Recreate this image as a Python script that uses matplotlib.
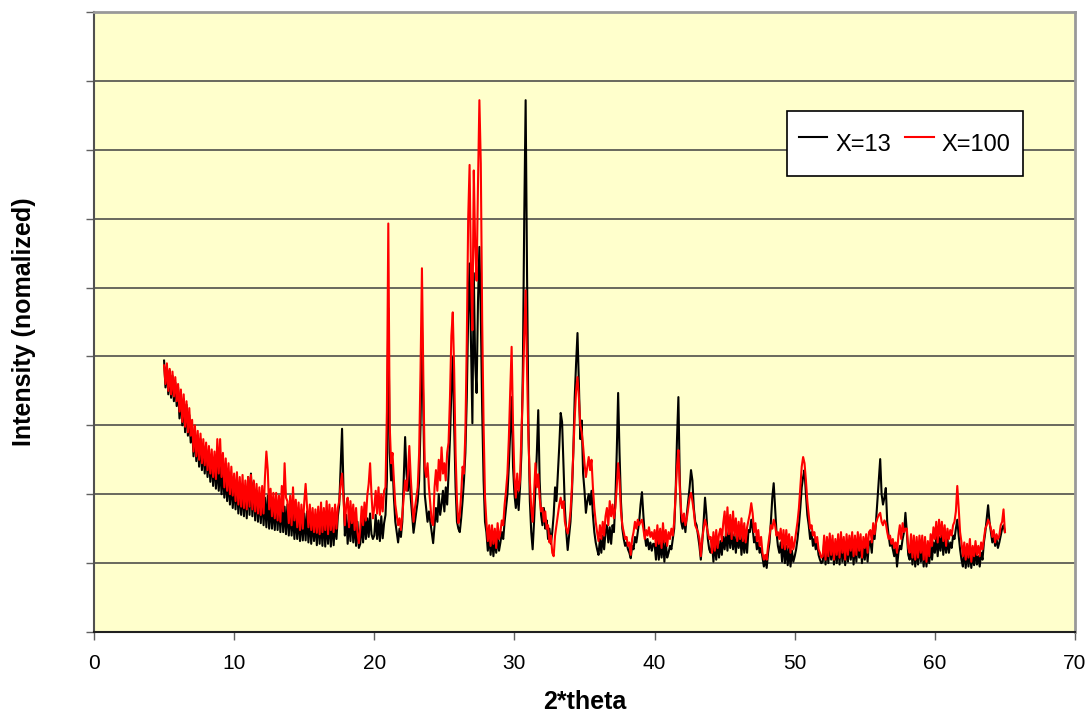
import numpy as np
import matplotlib.pyplot as plt

plt.rcParams['font.family'] = ['Liberation Sans', 'DejaVu Sans']

# 2*theta grid: 5.0 .. 65.0 in 0.1 steps, one row per degree
two_theta = np.round(np.arange(5.0, 65.05, 0.1), 1)

x13 = [
    3.94, 3.55, 3.85, 3.45, 3.80, 3.40, 3.72, 3.35, 3.62, 3.28,  # 5
    3.55, 3.10, 3.45, 3.00, 3.38, 2.90, 3.30, 2.85, 3.15, 2.75,  # 6
    3.00, 2.55, 2.92, 2.48, 2.85, 2.40, 2.80, 2.35, 2.70, 2.30,  # 7
    2.65, 2.25, 2.60, 2.18, 2.55, 2.12, 2.50, 2.08, 2.45, 2.05,  # 8
    2.40, 2.00, 2.38, 1.95, 2.30, 1.90, 2.25, 1.85, 2.20, 1.80,  # 9
    2.15, 1.78, 2.20, 1.72, 2.12, 1.70, 2.08, 1.68, 2.10, 1.65,  # 10
    2.25, 1.70, 2.30, 1.68, 2.18, 1.62, 2.05, 1.60, 2.00, 1.58,  # 11
    2.00, 1.55, 1.95, 1.52, 1.98, 1.50, 1.88, 1.50, 1.85, 1.48,  # 12
    1.92, 1.48, 1.88, 1.45, 1.90, 1.45, 1.82, 1.42, 1.85, 1.40,  # 13
    1.80, 1.40, 1.75, 1.35, 1.72, 1.35, 1.70, 1.32, 1.68, 1.33,  # 14
    1.72, 1.33, 1.75, 1.30, 1.68, 1.28, 1.65, 1.32, 1.62, 1.26,  # 15
    1.68, 1.28, 1.65, 1.25, 1.70, 1.24, 1.62, 1.28, 1.65, 1.24,  # 16
    1.65, 1.26, 1.60, 1.35, 1.68, 1.85, 2.40, 2.95, 2.10, 1.40,  # 17
    1.70, 1.28, 1.65, 1.32, 1.75, 1.30, 1.62, 1.25, 1.60, 1.22,  # 18
    1.28, 1.62, 1.30, 1.68, 1.35, 1.65, 1.38, 1.72, 1.42, 1.35,  # 19
    1.40, 1.70, 1.35, 1.62, 1.32, 1.68, 1.36, 1.58, 1.70, 2.20,  # 20
    4.70, 2.60, 2.20, 2.45, 1.95, 1.60, 1.45, 1.30, 1.50, 1.38,  # 21
    1.60, 2.20, 2.83, 2.30, 2.05, 2.40, 1.95, 1.70, 1.44, 1.60,  # 22
    1.75, 1.90, 2.20, 3.00, 4.43, 3.20, 2.00, 1.80, 1.60, 1.75,  # 23
    1.60, 1.45, 1.29, 1.55, 1.80, 1.60, 2.00, 1.70, 1.85, 2.05,  # 24
    1.75, 2.10, 1.85, 2.30, 2.80, 3.50, 3.99, 3.00, 2.10, 1.60,  # 25
    1.50, 1.45, 1.65, 1.90, 2.20, 2.60, 3.40, 4.60, 5.35, 4.20,  # 26
    3.03, 5.21, 3.90, 3.47, 4.80, 5.59, 4.60, 3.20, 2.20, 1.60,  # 27
    1.45, 1.18, 1.40, 1.12, 1.38, 1.10, 1.35, 1.15, 1.40, 1.18,  # 28
    1.30, 1.45, 1.35, 1.60, 1.80, 2.00, 2.40, 2.90, 3.41, 2.40,  # 29
    2.00, 1.80, 2.05, 1.77, 2.10, 2.60, 3.80, 6.00, 7.72, 5.20,  # 30
    3.00, 1.90, 1.45, 1.20, 1.60, 2.10, 2.60, 3.22, 2.20, 1.70,  # 31
    1.55, 1.80, 1.50, 1.62, 1.35, 1.50, 1.28, 1.45, 1.70, 2.10,  # 32
    1.90, 2.30, 2.70, 3.18, 3.05, 2.40, 1.80, 1.45, 1.19, 1.40,  # 33
    1.60, 2.00, 2.60, 3.40, 3.90, 4.34, 3.60, 2.80, 3.07, 2.30,  # 34
    2.05, 1.73, 1.90, 2.00, 1.85, 2.05, 1.70, 1.45, 1.30, 1.20,  # 35
    1.12, 1.35, 1.15, 1.40, 1.20, 1.45, 1.55, 1.30, 1.52, 1.28,  # 36
    1.55, 1.45, 1.90, 2.60, 3.47, 2.60, 1.90, 1.50, 1.35, 1.25,  # 37
    1.30, 1.20, 1.15, 1.07, 1.25, 1.20, 1.38, 1.30, 1.45, 1.60,  # 38
    1.85, 2.03, 1.70, 1.40, 1.25, 1.35, 1.20, 1.30, 1.18, 1.28,  # 39
    1.28, 1.05, 1.38, 1.05, 1.30, 1.08, 1.35, 1.02, 1.30, 1.08,  # 40
    1.15, 1.25, 1.20, 1.35, 1.50, 2.00, 2.80, 3.41, 2.20, 1.60,  # 41
    1.50, 1.65, 1.45, 1.70, 1.90, 2.10, 2.35, 2.20, 1.80, 1.60,  # 42
    1.55, 1.40, 1.25, 1.05, 1.30, 1.60, 1.95, 1.70, 1.35, 1.20,  # 43
    1.15, 1.28, 1.02, 1.32, 1.05, 1.35, 1.08, 1.32, 1.12, 1.38,  # 44
    1.20, 1.45, 1.18, 1.52, 1.22, 1.48, 1.20, 1.42, 1.15, 1.40,  # 45
    1.22, 1.45, 1.12, 1.40, 1.15, 1.38, 1.15, 1.48, 1.45, 1.63,  # 46
    1.50, 1.30, 1.38, 1.20, 1.30, 1.15, 1.22, 1.08, 0.95, 1.05,  # 47
    0.93, 1.15, 1.30, 1.60, 1.95, 2.16, 1.80, 1.45, 1.25, 1.15,  # 48
    1.30, 1.02, 1.35, 1.00, 1.25, 0.97, 1.22, 0.95, 1.18, 1.02,  # 49
    1.10, 1.20, 1.35, 1.55, 1.80, 2.10, 2.25, 2.35, 2.00, 1.70,  # 50
    1.55, 1.35, 1.45, 1.25, 1.35, 1.20, 1.30, 1.12, 1.05, 1.00,  # 51
    1.02, 1.30, 0.98, 1.28, 1.00, 1.35, 1.05, 1.30, 0.98, 1.25,  # 52
    1.00, 1.30, 0.98, 1.35, 1.02, 1.28, 0.97, 1.25, 1.02, 1.32,  # 53
    1.05, 1.30, 0.98, 1.28, 1.02, 1.35, 1.08, 1.28, 1.00, 1.25,  # 54
    1.05, 1.32, 1.02, 1.30, 1.32, 1.15, 1.48, 1.35, 1.60, 1.90,  # 55
    2.20, 2.51, 2.00, 1.85, 1.95, 2.09, 1.60, 1.40, 1.25, 1.30,  # 56
    1.20, 1.10, 1.25, 0.95, 1.15, 1.25, 1.20, 1.35, 1.45, 1.73,  # 57
    1.45, 1.12, 1.05, 1.30, 0.98, 1.28, 0.95, 1.22, 0.98, 1.28,  # 58
    1.02, 1.25, 0.95, 1.22, 0.95, 1.18, 1.00, 1.25, 1.05, 1.30,  # 59
    1.15, 1.40, 1.10, 1.38, 1.18, 1.45, 1.12, 1.38, 1.15, 1.35,  # 60
    1.15, 1.30, 1.22, 1.40, 1.35, 1.50, 1.63, 1.40, 1.20, 1.05,  # 61
    0.95, 1.20, 0.93, 1.18, 0.95, 1.18, 0.93, 1.12, 0.97, 1.20,  # 62
    0.98, 1.10, 0.95, 1.15, 1.05, 1.30, 1.45, 1.65, 1.84, 1.60,  # 63
    1.45, 1.30, 1.40, 1.25, 1.35, 1.22, 1.30, 1.40, 1.50, 1.55,  # 64
    1.45,                                                        # 65
]

x100 = [
    3.87, 3.60, 3.90, 3.50, 3.82, 3.45, 3.78, 3.42, 3.70, 3.35,  # 5
    3.60, 3.20, 3.52, 3.05, 3.45, 2.98, 3.35, 2.90, 3.25, 2.85,  # 6
    3.08, 2.62, 3.00, 2.55, 2.92, 2.50, 2.88, 2.45, 2.80, 2.42,  # 7
    2.75, 2.35, 2.70, 2.30, 2.65, 2.25, 2.62, 2.22, 2.80, 2.30,  # 8
    2.80, 2.25, 2.60, 2.10, 2.52, 2.05, 2.45, 2.00, 2.40, 1.98,  # 9
    2.30, 1.90, 2.32, 1.85, 2.25, 1.82, 2.28, 1.80, 2.20, 1.78,  # 10
    2.25, 1.82, 2.28, 1.78, 2.20, 1.75, 2.15, 1.72, 2.10, 1.70,  # 11
    2.12, 1.72, 2.25, 2.62, 2.35, 1.78, 2.08, 1.68, 2.02, 1.65,  # 12
    2.02, 1.62, 1.98, 1.60, 2.12, 1.75, 2.45, 1.95, 1.90, 1.58,  # 13
    1.98, 1.55, 2.10, 1.62, 1.92, 1.52, 1.88, 1.48, 1.85, 1.50,  # 14
    1.88, 2.15, 1.82, 1.52, 1.85, 1.48, 1.80, 1.45, 1.78, 1.44,  # 15
    1.82, 1.42, 1.88, 1.45, 1.80, 1.48, 1.90, 1.42, 1.85, 1.48,  # 16
    1.80, 1.45, 1.85, 1.50, 1.80, 1.90, 2.15, 2.30, 1.95, 1.55,  # 17
    1.85, 1.95, 1.52, 1.90, 1.58, 1.85, 1.48, 1.80, 1.45, 1.29,  # 18
    1.50, 1.82, 1.55, 1.88, 1.62, 1.98, 2.15, 2.45, 2.00, 1.65,  # 19
    1.80, 2.05, 1.72, 2.10, 1.70, 2.00, 1.75, 2.05, 2.10, 3.20,  # 20
    5.93, 3.00, 2.45, 2.60, 2.20, 1.85, 1.70, 1.55, 1.65, 1.48,  # 21
    1.70, 1.95, 2.20, 2.05, 2.30, 2.70, 2.25, 1.90, 1.60, 1.80,  # 22
    1.95, 2.10, 2.60, 3.80, 5.28, 3.70, 2.40, 2.25, 2.45, 2.10,  # 23
    1.85, 1.60, 1.55, 2.10, 2.35, 2.05, 2.50, 2.20, 2.68, 2.30,  # 24
    2.45, 2.20, 2.60, 2.75, 3.40, 4.30, 4.64, 3.80, 2.60, 1.90,  # 25
    1.58, 1.70, 2.00, 2.40, 2.30, 2.90, 4.20, 6.00, 6.78, 5.20,  # 26
    4.38, 6.70, 5.60, 5.10, 6.50, 7.72, 6.80, 4.50, 3.00, 1.96,  # 27
    1.60, 1.32, 1.55, 1.25, 1.55, 1.28, 1.50, 1.22, 1.58, 1.35,  # 28
    1.45, 1.62, 1.55, 1.85, 2.05, 2.30, 2.80, 3.50, 4.14, 3.00,  # 29
    2.25, 1.95, 2.30, 2.05, 2.20, 2.90, 3.50, 4.30, 4.96, 3.80,  # 30
    2.80, 2.20, 1.80, 1.60, 2.00, 2.45, 2.10, 2.29, 1.95, 1.75,  # 31
    1.80, 1.60, 1.75, 1.50, 1.55, 1.30, 1.40, 1.15, 1.10, 1.40,  # 32
    1.55, 1.70, 1.85, 1.95, 1.80, 1.90, 1.60, 1.50, 1.43, 1.55,  # 33
    1.75, 2.10, 2.60, 3.10, 3.50, 3.70, 3.40, 3.00, 2.90, 2.70,  # 34
    2.45, 2.25, 2.40, 2.54, 2.35, 2.50, 2.10, 1.80, 1.60, 1.45,  # 35
    1.32, 1.55, 1.35, 1.60, 1.40, 1.68, 1.80, 1.55, 1.90, 1.68,  # 36
    1.85, 1.65, 1.80, 2.10, 2.45, 2.20, 1.75, 1.55, 1.45, 1.35,  # 37
    1.38, 1.25, 1.30, 1.12, 1.35, 1.45, 1.60, 1.50, 1.63, 1.55,  # 38
    1.60, 1.63, 1.50, 1.35, 1.48, 1.40, 1.52, 1.38, 1.45, 1.35,  # 39
    1.48, 1.25, 1.55, 1.28, 1.50, 1.22, 1.58, 1.30, 1.48, 1.25,  # 40
    1.45, 1.35, 1.50, 1.40, 1.60, 2.00, 2.40, 2.64, 2.10, 1.75,  # 41
    1.60, 1.72, 1.55, 1.65, 1.80, 1.95, 2.02, 1.90, 1.75, 1.55,  # 42
    1.50, 1.45, 1.35, 1.10, 1.35, 1.50, 1.63, 1.55, 1.45, 1.35,  # 43
    1.38, 1.15, 1.45, 1.18, 1.48, 1.22, 1.42, 1.50, 1.32, 1.58,  # 44
    1.75, 1.40, 1.81, 1.42, 1.70, 1.35, 1.75, 1.40, 1.65, 1.32,  # 45
    1.60, 1.35, 1.65, 1.32, 1.58, 1.30, 1.52, 1.62, 1.72, 1.87,  # 46
    1.72, 1.45, 1.58, 1.32, 1.48, 1.25, 1.38, 1.15, 1.05, 1.12,  # 47
    1.05, 1.25, 1.40, 1.55, 1.50, 1.63, 1.55, 1.40, 1.45, 1.35,  # 48
    1.50, 1.22, 1.48, 1.20, 1.48, 1.22, 1.42, 1.15, 1.38, 1.20,  # 49
    1.30, 1.45, 1.60, 1.80, 2.10, 2.40, 2.54, 2.45, 2.20, 1.90,  # 50
    1.70, 1.50, 1.55, 1.40, 1.45, 1.30, 1.38, 1.20, 1.15, 1.08,  # 51
    1.10, 1.40, 1.05, 1.38, 1.10, 1.43, 1.12, 1.40, 1.05, 1.35,  # 52
    1.12, 1.42, 1.08, 1.45, 1.15, 1.38, 1.05, 1.42, 1.12, 1.40,  # 53
    1.18, 1.45, 1.10, 1.40, 1.12, 1.45, 1.18, 1.42, 1.08, 1.38,  # 54
    1.22, 1.42, 1.15, 1.45, 1.48, 1.30, 1.58, 1.42, 1.58, 1.65,  # 55
    1.70, 1.73, 1.60, 1.55, 1.62, 1.58, 1.45, 1.35, 1.40, 1.28,  # 56
    1.35, 1.22, 1.30, 1.15, 1.40, 1.55, 1.35, 1.58, 1.45, 1.50,  # 57
    1.50, 1.22, 1.15, 1.42, 1.08, 1.40, 1.05, 1.38, 1.08, 1.40,  # 58
    1.15, 1.40, 1.05, 1.38, 1.02, 1.32, 1.10, 1.42, 1.25, 1.52,  # 59
    1.35, 1.60, 1.30, 1.63, 1.38, 1.60, 1.32, 1.55, 1.25, 1.50,  # 60
    1.35, 1.48, 1.40, 1.55, 1.60, 1.75, 2.12, 1.80, 1.45, 1.30,  # 61
    1.10, 1.30, 1.05, 1.28, 1.08, 1.35, 1.02, 1.25, 1.10, 1.32,  # 62
    1.12, 1.25, 1.10, 1.30, 1.20, 1.35, 1.50, 1.55, 1.63, 1.58,  # 63
    1.50, 1.38, 1.48, 1.30, 1.42, 1.35, 1.40, 1.55, 1.60, 1.78,  # 64
    1.45,                                                        # 65
]

series_labels = ['X=13', 'X=100']
series_colors = ['black', 'red']
x_ticks = [0, 10, 20, 30, 40, 50, 60, 70]

fig = plt.figure(figsize=(10.92, 7.2), dpi=100)
ax = fig.add_axes([94 / 1092, 1 - 632 / 720, (1075 - 94) / 1092, (632 - 12) / 720])
ax.set_facecolor('#FFFFCC')

ax.plot(two_theta, x13, color=series_colors[0], lw=1.5, label=series_labels[0])
ax.plot(two_theta, x100, color=series_colors[1], lw=1.5, label=series_labels[1])

ax.set_xlim(0, 70)
ax.set_ylim(0, 9)
ax.set_xticks(x_ticks)
ax.set_yticks(np.arange(0, 10, 1))
ax.set_yticklabels([])
ax.grid(axis='y', color='#404040', lw=1.1)
ax.set_axisbelow(True)
ax.tick_params(axis='x', direction='out', length=6, width=1, color='#606060',
               labelsize=15, pad=10)
ax.tick_params(axis='y', direction='out', length=6, width=1, color='#606060')

for side in ['top', 'right']:
    ax.spines[side].set_color('#999999')
    ax.spines[side].set_linewidth(2)
ax.spines['left'].set_color('#505050')
ax.spines['left'].set_linewidth(1.5)
ax.spines['bottom'].set_color('#202020')
ax.spines['bottom'].set_linewidth(1.5)

ax.set_xlabel('2*theta', fontsize=18, fontweight='bold', labelpad=12)
ax.set_ylabel('Intensity (nomalized)', fontsize=18, fontweight='bold', labelpad=32)

leg = ax.legend(loc='upper left', bbox_to_anchor=(787 / 1092, 1 - 111 / 720),
                bbox_transform=fig.transFigure, ncol=2, fontsize=17,
                frameon=True, fancybox=False, edgecolor='black', framealpha=1,
                handlelength=1.2, handletextpad=0.35, columnspacing=0.6,
                handleheight=2.3, borderpad=0.5, borderaxespad=0)
leg.get_frame().set_linewidth(1.2)

fig.savefig('out.png', dpi=100, facecolor='white')
